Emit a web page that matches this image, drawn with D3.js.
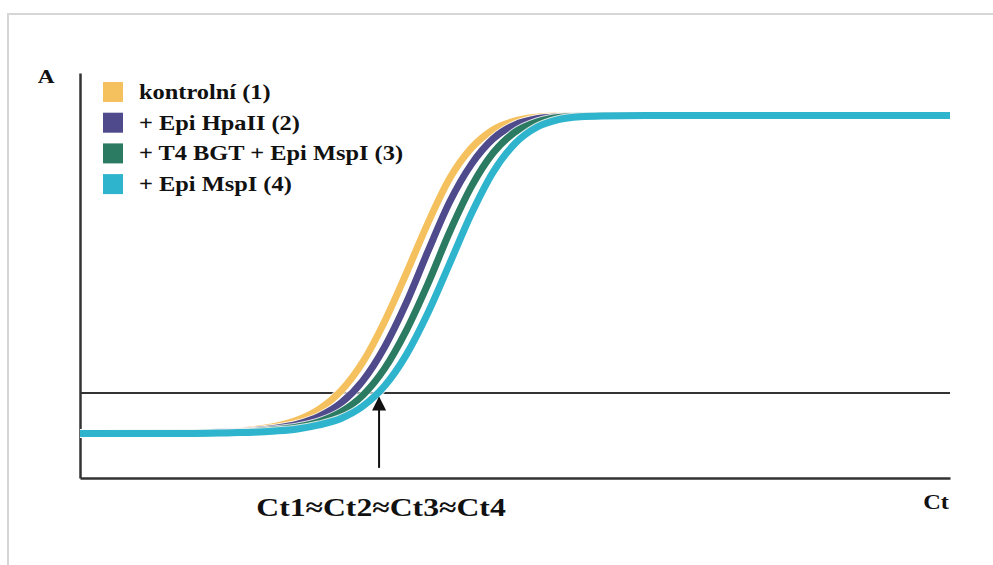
<!DOCTYPE html>
<html>
<head>
<meta charset="utf-8">
<script src="https://cdn.jsdelivr.net/npm/d3@7"></script>
<style>
  html, body { margin: 0; padding: 0; background: #fff; }
  svg { display: block; }
  .lbl { font-family: "Liberation Serif", "Times New Roman", "DejaVu Serif", serif; font-weight: bold; fill: #111; }
</style>
</head>
<body>
<div id="chart"></div>
<script>
// cycle numbers (x) shared by all series
const cycles = [0, 5, 7, 8, 9, 10, 11, 12, 13, 14, 15, 16, 17, 18, 19, 20, 21, 22, 23, 24, 26, 30, 40];

// fluorescence, one array per sample
const kontrolni = [11, 11.15, 11.5, 12.0, 12.8, 14.3, 17.0, 21.5, 28.6, 38.6, 50.5, 63.0, 74.0, 81.5, 86.0, 88.2, 89.1, 89.4, 89.5, 89.5, 89.5, 89.5, 89.5];
const hpaII     = [11, 11.1, 11.4, 11.7, 12.3, 13.3, 15.2, 18.5, 24.0, 32.3, 43.2, 56.0, 68.2, 77.5, 83.8, 87.2, 88.7, 89.2, 89.4, 89.5, 89.5, 89.5, 89.5];
const t4MspI    = [11, 11.05, 11.25, 11.5, 11.9, 12.6, 13.9, 16.3, 20.4, 27.0, 36.4, 48.0, 60.8, 72.0, 80.3, 85.4, 87.9, 89.0, 89.3, 89.5, 89.5, 89.5, 89.5];
const mspI      = [11, 11.0, 11.2, 11.3, 11.6, 12.1, 13.1, 14.7, 17.7, 22.7, 30.4, 40.8, 53.0, 65.3, 75.6, 82.6, 86.6, 88.5, 89.2, 89.4, 89.5, 89.5, 89.5];

const seriesNames = ['kontrolní (1)', '+ Epi HpaII (2)', '+ T4 BGT + Epi MspI (3)', '+ Epi MspI (4)'];
const seriesValues = [kontrolni, hpaII, t4MspI, mspI];
const colors = ['#f5c15e', '#4e4a8b', '#2b7b62', '#2fb4cd'];

const threshold = 21;
const ctMark = 13.75;
const ctLabel = 'Ct1≈Ct2≈Ct3≈Ct4';

const width = 993, height = 565;
const margin = { top: 73, right: 43, bottom: 87, left: 80 };

const svg = d3.select('#chart')
    .append('svg')
    .attr('width', width)
    .attr('height', height);

// light frame around the figure
svg.append('rect')
    .attr('x', 8).attr('y', 14)
    .attr('width', 1000).attr('height', 600)
    .attr('fill', 'none')
    .attr('stroke', '#d6d6d6')
    .attr('stroke-width', 2);

const x = d3.scaleLinear().domain([0, 40]).range([margin.left, width - margin.right]);
const y = d3.scaleLinear().domain([0, 100]).range([height - margin.bottom, margin.top]);

// axes: just the domain lines, no ticks
svg.append('g')
    .attr('transform', `translate(0,${y(0)})`)
    .call(d3.axisBottom(x).tickValues([]).tickSizeOuter(0))
    .select('.domain').attr('stroke', '#333').attr('stroke-width', 2.5);

svg.append('g')
    .attr('transform', `translate(${x(0)},0)`)
    .call(d3.axisLeft(y).tickValues([]).tickSizeOuter(0))
    .select('.domain').attr('stroke', '#333').attr('stroke-width', 2.5);

// threshold line
svg.append('line')
    .attr('x1', x(0)).attr('x2', x(40))
    .attr('y1', y(threshold)).attr('y2', y(threshold))
    .attr('stroke', '#333')
    .attr('stroke-width', 2);

// amplification curves
const line = d3.line()
    .x((d, i) => x(cycles[i]))
    .y(d => y(d))
    .curve(d3.curveMonotoneX);

seriesValues.forEach((vals, i) => {
    svg.append('path')
        .attr('d', line(vals))
        .attr('fill', 'none')
        .attr('stroke', '#fff')
        .attr('stroke-width', 9)
        .attr('stroke-opacity', 0.8);
    svg.append('path')
        .attr('d', line(vals))
        .attr('fill', 'none')
        .attr('stroke', colors[i])
        .attr('stroke-width', 7);
});

// arrow pointing at the threshold crossing
svg.append('defs').append('marker')
    .attr('id', 'arrow')
    .attr('viewBox', '0 0 10 10')
    .attr('refX', 9).attr('refY', 5)
    .attr('markerWidth', 20).attr('markerHeight', 14)
    .attr('markerUnits', 'userSpaceOnUse')
    .attr('orient', 'auto')
    .append('path')
    .attr('d', 'M0,0 L10,5 L0,10 Z')
    .attr('fill', '#111');

svg.append('line')
    .attr('x1', x(ctMark)).attr('x2', x(ctMark))
    .attr('y1', y(2.5)).attr('y2', y(19.8))
    .attr('stroke', '#111')
    .attr('stroke-width', 2)
    .attr('marker-end', 'url(#arrow)');

// text labels (the source image is stretched horizontally)
const stretch = 1.22;

svg.append('text')
    .attr('class', 'lbl')
    .attr('transform', `translate(46,83) scale(${stretch},1)`)
    .attr('text-anchor', 'middle')
    .style('font-size', '19px')
    .text('A');

svg.append('text')
    .attr('class', 'lbl')
    .attr('transform', `translate(936,509) scale(${stretch},1)`)
    .attr('text-anchor', 'middle')
    .style('font-size', '20px')
    .text('Ct');

svg.append('text')
    .attr('class', 'lbl')
    .attr('transform', `translate(381,516) scale(${stretch},1)`)
    .attr('text-anchor', 'middle')
    .style('font-size', '26px')
    .text(ctLabel);

// legend
const legend = svg.append('g').attr('transform', 'translate(103,82)');
seriesNames.forEach((name, i) => {
    const row = legend.append('g').attr('transform', `translate(0,${i * 30.7})`);
    row.append('rect')
        .attr('width', 20).attr('height', 20)
        .attr('fill', colors[i]);
    row.append('text')
        .attr('class', 'lbl')
        .attr('transform', `translate(36,17) scale(${stretch},1)`)
        .style('font-size', '20px')
        .text(name);
});
</script>
</body>
</html>
